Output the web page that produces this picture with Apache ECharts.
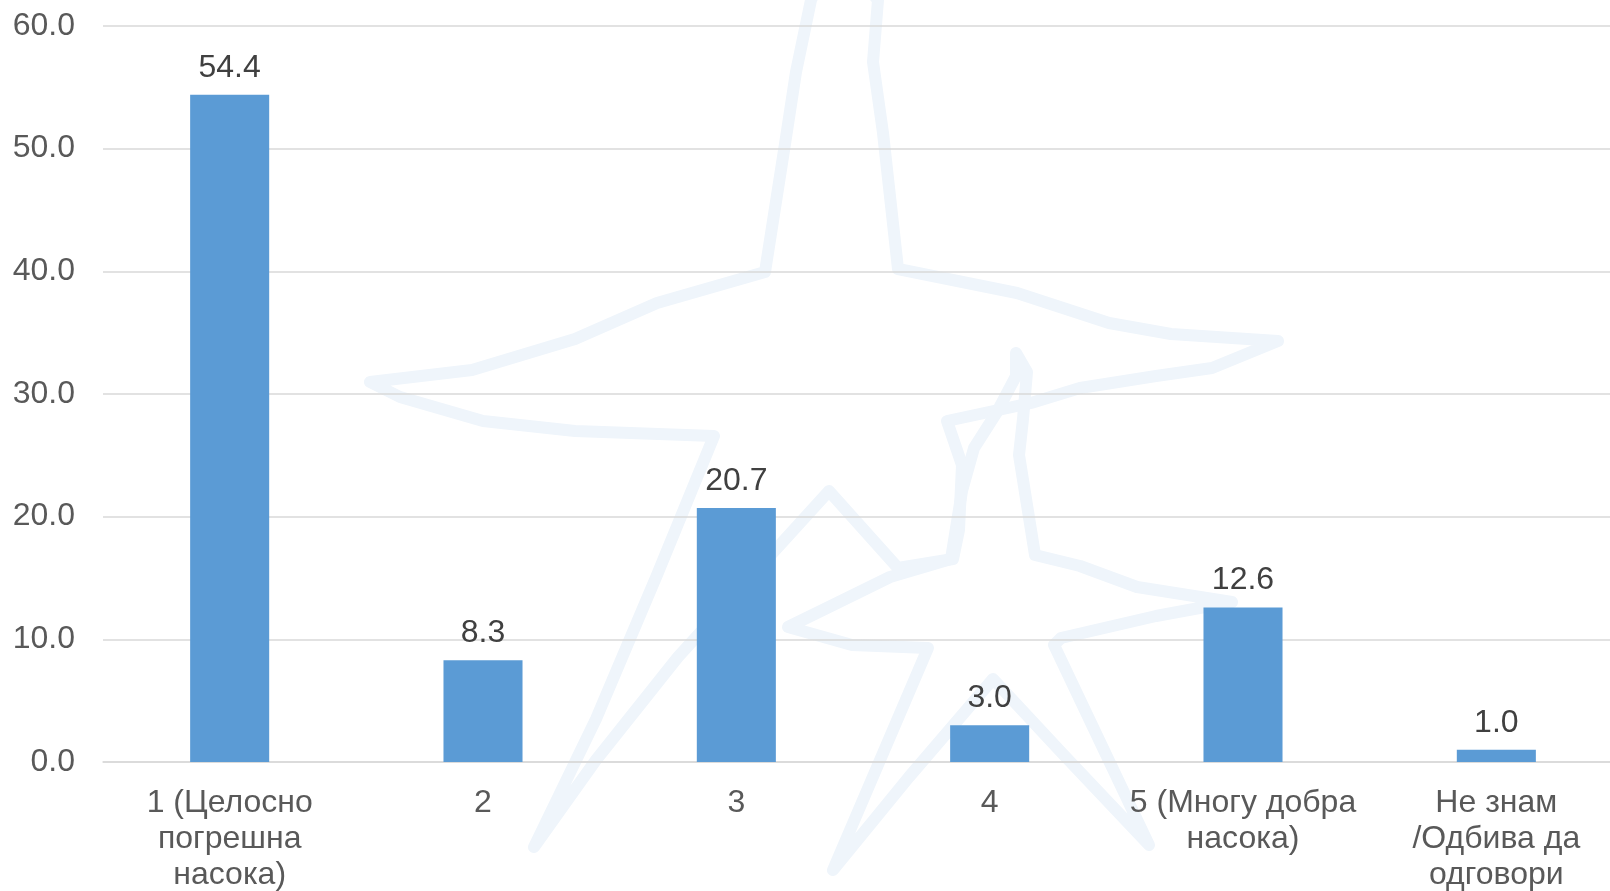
<!DOCTYPE html>
<html lang="mk">
<head>
<meta charset="utf-8">
<script src="https://cdn.jsdelivr.net/npm/echarts@6/dist/echarts.min.js"></script>
<style>
  *{margin:0;padding:0;}
  body{background:#fff;}
</style>
</head>
<body>
<div id="main" style="width:1610px;height:891px;"></div>
<script>
// категории и вредности (%)
var categories = ['1 (Целосно\nпогрешна\nнасока)', '2', '3', '4', '5 (Многу добра\nнасока)', 'Не знам\n/Одбива да\nодговори'];
var values = [54.4, 8.3, 20.7, 3.0, 12.6, 1.0];
var yTicks = [0, 60, 10]; // min, max, interval

// декоративен воден жиг (ѕвезди) во позадина
var starBig = [[835,-50],[878,0],[873,62],[883,133],[898,269],[1017,293],[1109,323],[1171,334],[1278,341],
  [1212,368],[1156,376],[1080,388],[1031,403],[947,421],[962,465],[959,530],[953,559],[898,568],[829,491],
  [678,657],[596,760],[534,847],[596,719],[657,575],[714,436],[575,431],[483,421],[400,397],[370,382],
  [472,370],[575,339],[657,303],[765,272],[785,144],[796,72],[811,0],[835,-50]];
var starSmall = [[1016,353],[1027,372],[1023,419],[1019,455],[1035,555],[1080,566],[1137,587],[1232,602],
  [1156,616],[1061,638],[1054,645],[1149,845],[1061,752],[993,679],[909,777],[833,870],[928,648],
  [852,645],[788,627],[833,605],[890,577],[951,559],[962,491],[974,448],[997,412],[1016,376],[1016,353]];

var myChart = echarts.init(document.getElementById('main'));

var font = '"Liberation Sans", Arial, sans-serif';
var wmStyle = {stroke: '#EFF5FB', lineWidth: 12, fill: null, lineJoin: 'round', lineCap: 'round'};

var option = {
    animation: false,
    textStyle: {fontFamily: font},
    graphic: {
        elements: [
            {type: 'polyline', z: -10, silent: true, shape: {points: starBig}, style: wmStyle},
            {type: 'polyline', z: -10, silent: true, shape: {points: starSmall}, style: wmStyle}
        ]
    },
    grid: {left: 103, right: -13, top: 26, bottom: 129, containLabel: false, outerBoundsMode: 'none'},
    xAxis: {
        type: 'category',
        data: categories,
        axisLine: {lineStyle: {color: '#D9D9D9', width: 1.5}},
        axisTick: {show: false},
        axisLabel: {
            color: '#595959',
            fontSize: 32,
            lineHeight: 36,
            margin: 23,
            interval: 0,
            fontFamily: font
        }
    },
    yAxis: {
        type: 'value',
        min: yTicks[0],
        max: yTicks[1],
        interval: yTicks[2],
        axisLine: {show: false},
        axisTick: {show: false},
        splitLine: {lineStyle: {color: '#D9D9D9', width: 1.5}},
        axisLabel: {
            color: '#595959',
            fontSize: 32,
            margin: 28,
            fontFamily: font,
            formatter: function (v) { return v.toFixed(1); }
        }
    },
    series: [{
        type: 'bar',
        data: values,
        barWidth: '31.2%',
        itemStyle: {color: '#5B9BD5'},
        label: {
            show: true,
            position: 'top',
            distance: 11,
            color: '#404040',
            fontSize: 32,
            fontFamily: font,
            formatter: function (p) { return p.value.toFixed(1); }
        }
    }]
};

myChart.setOption(option);
</script>
</body>
</html>
